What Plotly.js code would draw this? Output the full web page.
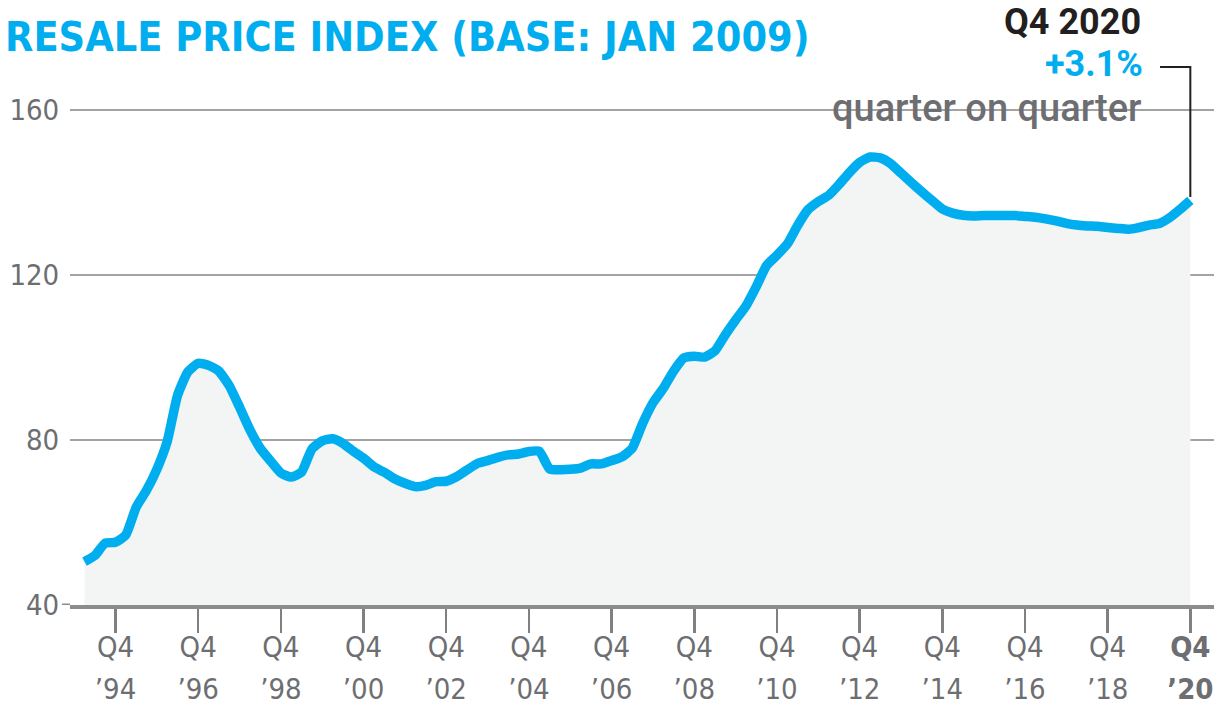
<!DOCTYPE html>
<html>
<head>
<meta charset="utf-8">
<script src="https://cdn.plot.ly/plotly-3.0.1.min.js"></script>
<style>
  html, body { margin: 0; padding: 0; background: #ffffff; }
  #chart { width: 1218px; height: 710px; }
</style>
</head>
<body>
<div id="chart"></div>
<script>
// Quarterly resale price index, Q1 1994 .. Q4 2020 (base Jan 2009 = 100)
const firstYear = 1994;
const indexValues = [
  50.5, 52.0, 55.0, 55.2, 57.0, 63.7, 67.8, 72.9, 79.6, 90.8,
  96.5, 98.6, 98.1, 96.7, 93.2, 88.0, 82.5, 78.0, 74.9, 72.0,
  71.0, 72.2, 77.8, 79.8, 80.3, 79.2, 77.3, 75.6, 73.5, 72.2,
  70.6, 69.5, 68.7, 69.0, 69.9, 70.0, 71.1, 72.7, 74.3, 75.0,
  75.8, 76.4, 76.6, 77.2, 77.3, 73.0, 72.8, 72.9, 73.2, 74.2,
  74.2, 75.0, 75.9, 78.0, 84.0, 89.0, 92.5, 96.7, 99.9, 100.3,
  100.1, 101.6, 105.5, 109.1, 112.5, 117.2, 122.3, 124.8, 127.5, 132.0,
  135.8, 137.8, 139.3, 141.9, 144.8, 147.3, 148.6, 148.4, 147.0, 144.7,
  142.4, 140.2, 138.1, 136.0, 135.0, 134.5, 134.3, 134.4, 134.4, 134.4,
  134.4, 134.2, 134.0, 133.6, 133.1, 132.5, 132.1, 131.9, 131.8, 131.5,
  131.3, 131.1, 131.5, 132.1, 132.5, 133.9, 135.9, 138.1
];
const tickYears = [1994, 1996, 1998, 2000, 2002, 2004, 2006, 2008, 2010, 2012, 2014, 2016, 2018, 2020];
const tickTop = ["Q4","Q4","Q4","Q4","Q4","Q4","Q4","Q4","Q4","Q4","Q4","Q4","Q4","<b>Q4</b>"];
const tickBottom = ["’94","’96","’98","’00","’02","’04","’06","’08","’10","’12","’14","’16","’18","<b>’20</b>"];
const yTicks = [40, 80, 120, 160];

// quarter index positions (0 = Q1 of firstYear)
const xIdx = indexValues.map((v, i) => i);
const quarterLabels = indexValues.map((v, i) => 'Q' + (i % 4 + 1) + ' ' + (firstYear + Math.floor(i / 4)));
const tickVals = tickYears.map(y => (y - firstYear) * 4 + 3);
const lastX = xIdx[xIdx.length - 1];
const lastY = indexValues[indexValues.length - 1];

const BLUE = '#00aeef';
const GREY_TXT = '#6d6e71';
const NARROW = '"DejaVu Sans Condensed", "Liberation Sans Narrow", sans-serif';
const SANS = 'Roboto, "Open Sans", sans-serif';

const xRange = [-1.403, 109.29];

const trace = {
  type: 'scatter',
  mode: 'lines',
  x: xIdx,
  y: indexValues,
  text: quarterLabels,
  hovertemplate: '%{text}: %{y}<extra></extra>',
  line: { color: BLUE, width: 9.5, shape: 'spline', smoothing: 0.5 },
  fill: 'tozeroy',
  fillcolor: '#f3f4f4',
  xaxis: 'x', yaxis: 'y'
};
const trace2 = {
  type: 'scatter', mode: 'none', x: [xIdx[0]], y: [indexValues[0]],
  xaxis: 'x2', yaxis: 'y', showlegend: false, hoverinfo: 'skip'
};

const layout = {
  width: 1218, height: 710,
  margin: { l: 70, r: 4, t: 48, b: 105 },
  paper_bgcolor: '#ffffff', plot_bgcolor: '#ffffff',
  showlegend: false,
  title: {
    text: '<b>RESALE PRICE INDEX (BASE: JAN 2009)</b>',
    font: { family: NARROW, size: 41, color: BLUE },
    x: 5 / 1218, xanchor: 'left', xref: 'container',
    y: 1 - 37 / 710, yanchor: 'middle', yref: 'container'
  },
  xaxis: {
    range: xRange, fixedrange: true,
    tickvals: tickVals, ticktext: tickTop,
    ticks: 'outside', ticklen: 24, tickwidth: 2.5, tickcolor: '#808080',
    showline: true, linecolor: '#8c8c8c', linewidth: 3.5,
    showgrid: false, zeroline: false,
    tickfont: { family: NARROW, size: 29, color: GREY_TXT },
    ticklabelstandoff: -10
  },
  xaxis2: {
    overlaying: 'x', matches: 'x', side: 'bottom', anchor: 'y',
    range: xRange, fixedrange: true,
    tickvals: tickVals, ticktext: tickBottom,
    ticks: '', showline: false, showgrid: false, zeroline: false,
    tickfont: { family: NARROW, size: 29, color: GREY_TXT },
    ticklabelstandoff: 64
  },
  yaxis: {
    range: [40, 175.03], fixedrange: true,
    tickvals: yTicks, ticktext: yTicks.map(String),
    ticks: 'outside', ticklen: 4, tickcolor: '#ffffff', tickwidth: 2,
    showgrid: true, gridcolor: '#a3a3a3', gridwidth: 1.6,
    zeroline: false, showline: false,
    tickfont: { family: NARROW, size: 29, color: GREY_TXT }
  },
  shapes: [
    // white gap in the 160 gridline behind the callout text
    { type: 'rect', xref: 'paper', yref: 'y',
      x0: (811 - 70) / 1144, x1: (1158 - 70) / 1144, y0: 158.5, y1: 161.5,
      fillcolor: '#ffffff', line: { width: 0 }, layer: 'between' },
    // small tick left of the 40 baseline
    { type: 'line', xref: 'paper', yref: 'y', x0: -8 / 1144, x1: 0, y0: 40, y1: 40,
      line: { color: '#8c8c8c', width: 3 }, layer: 'above' },
    // connector from the callout to the last point
    { type: 'path', xref: 'x', yref: 'y',
      path: 'M ' + (lastX - 2.93) + ',170.4 L ' + lastX + ',170.4 L ' + lastX + ',' + (lastY + 0.8),
      line: { color: '#231f20', width: 2 }, layer: 'above' }
  ],
  annotations: [
    { xref: 'paper', yref: 'paper', x: (1143 - 70) / 1144, y: (605 - 22) / 557,
      xanchor: 'right', yanchor: 'middle', showarrow: false,
      text: '<b>Q4 2020</b>', font: { family: SANS, size: 36, color: '#231f20' } },
    { xref: 'paper', yref: 'paper', x: (1145 - 70) / 1144, y: (605 - 64) / 557,
      xanchor: 'right', yanchor: 'middle', showarrow: false,
      text: '<b>+3.1%</b>', font: { family: SANS, size: 36, color: BLUE } },
    { xref: 'paper', yref: 'paper', x: (1143 - 70) / 1144, y: (605 - 108) / 557,
      xanchor: 'right', yanchor: 'middle', showarrow: false,
      text: 'quarter on quarter',
      font: { family: SANS, size: 38, color: GREY_TXT, weight: 500 } }
  ]
};

Plotly.newPlot('chart', [trace, trace2], layout, { displayModeBar: false, staticPlot: true });
</script>
</body>
</html>
